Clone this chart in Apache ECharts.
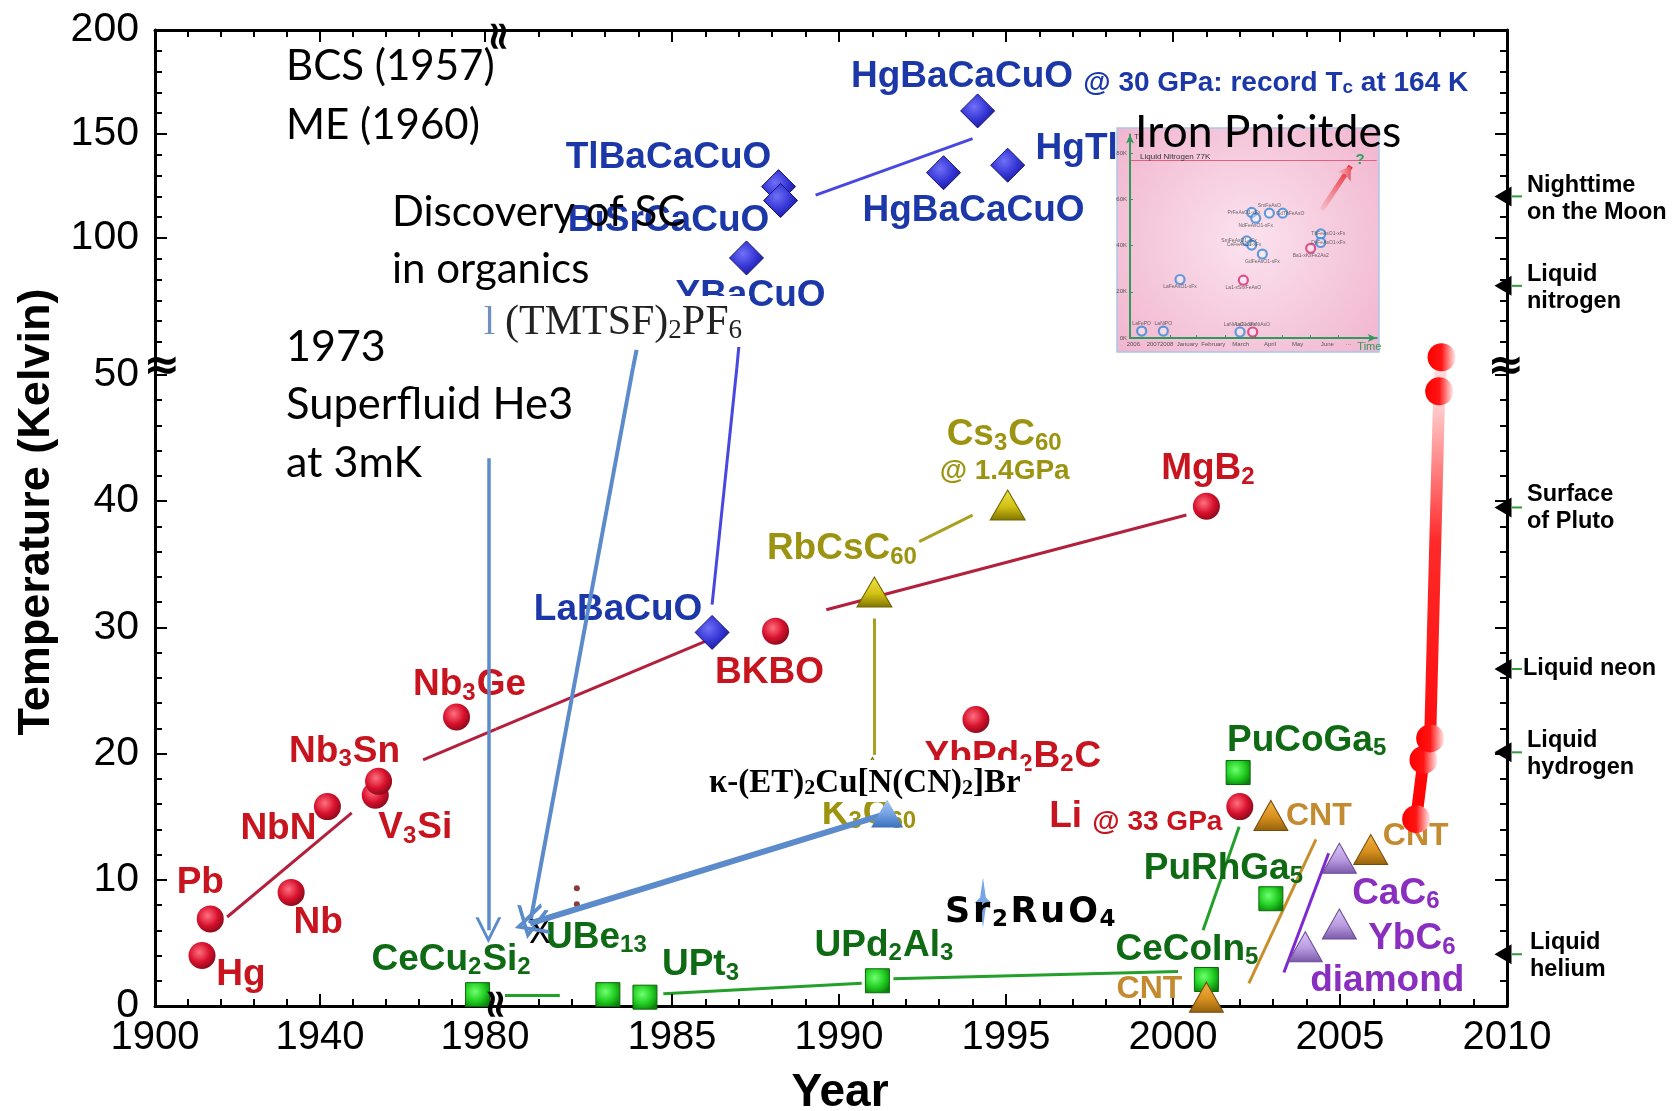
<!DOCTYPE html>
<html>
<head>
<meta charset="utf-8">
<title>Superconductor discovery timeline</title>
<script src="https://cdn.jsdelivr.net/npm/echarts@6.0.0/dist/echarts.min.js"></script>
<style>
html,body{margin:0;padding:0;background:#ffffff;}
#chart{width:1672px;height:1111px;}
</style>
</head>
<body>
<div id="chart"></div>
<script>
// ================= DATA =================
// Axis ranges / ticks (broken axes: 1900-1980 compressed, 50-200 K compressed)
const yearRangeLeft = [1900, 1982.67];
const yearRangeRight = [1979.73, 2010];
const tempRangeLow = [0, 50.55];
const tempRangeHigh = [37.5, 200];
const yearTicksLeft = [1900, 1940, 1980];
const yearTicksRight = [1985, 1990, 1995, 2000, 2005, 2010];
const yearMinorLeft = [1908, 1916, 1924, 1932, 1948, 1956, 1964, 1972];
const yearMinorRight = [1981,1982,1983,1984,1986,1987,1988,1989,1991,1992,1993,1994,1996,1997,1998,1999,2001,2002,2003,2004,2006,2007,2008,2009];
const tempTicksLow = [0, 10, 20, 30, 40, 50];
const tempMinorLow = [2,4,6,8,12,14,16,18,22,24,26,28,32,34,36,38,42,44,46,48];
const tempTicksHigh = [100, 150, 200];
const tempMinorHigh = [50,60,70,80,90,110,120,130,140,160,170,180,190];

// Conventional superconductors (red spheres)
const bcsEarlyNames = ['Hg','Pb','Nb','NbN','V{s|3}Si','Nb{s|3}Sn','Nb{s|3}Ge'];
const bcsEarlyYear  = [1911.4, 1913.4, 1933.0, 1941.8, 1953.4, 1954.2, 1973.1];
const bcsEarlyTc    = [4.0, 6.9, 9.0, 15.8, 16.7, 17.8, 22.9];
const bcsLateNames  = ['BKBO','YbPd{s|2}B{s|2}C','MgB{s|2}','Li {m|@ 33 GPa}'];
const bcsLateYear   = [1988.1, 1994.1, 2001.0, 2002.0];
const bcsLateTc     = [29.7, 22.7, 39.6, 15.8];
// Cuprates (blue diamonds)
const cuprateLowNames = ['LaBaCuO'];
const cuprateLowYear  = [1986.2];
const cuprateLowTc    = [29.6];
const cuprateHighNames = ['YBaCuO','TlBaCaCuO','BiSrCaCuO','HgBaCaCuO','HgTl','HgBaCaCuO {m|@ 30 GPa: record T}{ms|c}{m| at 164 K}'];
const cuprateHighYear  = [1987.23, 1988.19, 1988.25, 1993.13, 1995.05, 1994.15];
const cuprateHighTc    = [90.4, 124.7, 118.0, 131.4, 135.0, 161.1];
// Heavy fermions (green squares)
const hfEarlyNames = ['CeCu{s|2}Si{s|2}'];
const hfEarlyYear  = [1978.2];
const hfEarlyTc    = [0.9];
const hfNames = ['UBe{s|13}','UPt{s|3}','UPd{s|2}Al{s|3}','CeCoIn{s|5}','PuRhGa{s|5}','PuCoGa{s|5}'];
const hfYear  = [1983.08, 1984.19, 1991.15, 2001.0, 2002.93, 2001.95];
const hfTc    = [0.9, 0.7, 2.0, 2.1, 8.5, 18.5];
// Fullerides (olive triangles)
const fullNames = ['RbCsC{s|60}','Cs{s|3}C{s|60}\n{m|@ 1.4GPa}','K{s|3}C{s|60}'];
const fullYear  = [1991.06, 1995.05, 1991.0];
const fullTc    = [32.8, 39.7, 18.5];
// Carbon nanotubes (tan triangles)
const cntNames = ['CNT','CNT','CNT'];
const cntYear  = [2001.0, 2002.93, 2005.92];
const cntTc    = [0.7, 15.1, 12.4];
// Graphite compounds / diamond (purple triangles)
const gicNames = ['CaC{s|6}','YbC{s|6}','diamond'];
const gicYear  = [2004.98, 2004.98, 2003.96];
const gicTc    = [11.7, 6.5, 4.7];
// Iron pnictides (red gradient)
const pnicYear = [2007.28, 2007.5, 2007.7, 2007.97, 2008.04];
const pnicTc   = [14.8, 19.5, 21.2, 48.7, 51.4];
// Organic kappa-(ET) marker and Sr2RuO4 marker
const kappaYear = [1991.44], kappaTc = [15.25];
const srRuYear = [1994.31], srRuTc = [8.2], srRuNames = ['{w|S}{w|r}{s|2}{w|R}{w|u}{w|O}{s|4}'];
const dotYear = [1982.15, 1982.15], dotTc = [9.33, 8.07];

// Trend lines [[year,Tc],[year,Tc]]
const bcsTrendLeft  = [[[1917.5,7.05],[1947.7,15.3]], [[1965.0,19.5],[1982.67,21.93]]];
const bcsTrendRight = [[[1979.73,21.93],[1986.1,29.0]], [[1989.62,31.4],[2000.4,38.9]]];
const cuprateTrendHigh = [[[1989.3,120.6],[1994.0,147.8]], [[1987.0,47.8],[1986.94,37.5]]];
const cuprateTrendLow  = [[[1986.94,50.55],[1986.2,31.8]]];
const fullTrend = [[[1991.06,30.7],[1991.06,19.9]], [[1992.4,36.8],[1994.0,38.9]]];
const hfTrend = [[[1980.0,0.85],[1981.64,0.85]], [[1984.74,0.97],[1990.68,1.8]], [[1991.63,2.15],[2000.15,2.74]], [[2001.98,14.2],[2000.9,6.0]]];
const cntTrend = [[[2002.27,1.8],[2004.28,13.2]]];
const gicTrend = [[[2003.32,2.65],[2004.66,12.1]]];
// Annotation arrows
const he3Arrow = [[[1980.82,43.4],[1980.82,6.0]]];
const organicArrowHigh = [[[1983.94,46.25],[1983.83,37.5]]];
const organicArrowLow  = [[[1983.83,50.55],[1980.75,6.55]]];
const kappaArrow = [[[1991.44,15.25],[1980.75,6.55]]];

// Reference temperatures (right side)
const refHighNames = ['Nighttime\non the Moon','Liquid\nnitrogen'];
const refHighTemps = [120, 77];
const refLowNames = ['Surface\nof Pluto','Liquid neon','Liquid\nhydrogen','Liquid\nhelium'];
const refLowTemps = [39.5, 26.7, 20.1, 4.1];

// Inset: iron pnictides
const insetXLabelPos = [10,70,110,172,250,332,420,503,592,655,718];
const insetXLabels = ['2006','2007','2008','January','February','March','April','May','June','\u00b7\u00b7\u00b7','Time'];
const insetXTicks = [122,200,285,375,458,542,625];
const insetYTicks = [0,20,40,60,80];
const insetBlueNames = ['LaFePO','LaNiPO','LaFeAsO1-xFx','LaNiAsO1-xFx','SmFeAsO1-xFx','CeFeAsO1-xFx','GdFeAsO1-xFx','PrFeAsO1-xFx','NdFeAsO1-xFx','SmFeAsO','GdThFeAsO','TbFeAsO1-xFx','DyFeAsO1-xFx'];
const insetBlueX = [35,100,150,330,350,365,397,365,377,418,458,572,572];
const insetBlueTc = [3.0,3.0,25.3,2.6,42.0,40.2,36.3,54.3,51.8,54.0,54.0,45.0,41.3];
const insetMagNames = ['La1-xSrxFeAsO','La1-xSrxNiAsO','Ba1-xKxFe2As2'];
const insetMagX = [340,368,542];
const insetMagTc = [25.0,2.6,38.8];
const insetN2 = [[[0,77],[740,77]]];
const insetArrow = [[[575,55.4],[662,74.3]]];
const insetQ = [[690,77.2]];

// ================= LAYOUT (label offsets in px) =================
const bcsEarlyOff = [[39,19],[-10,-36],[27,30],[-49,22],[40,33],[-34,-30],[13,-32]];
const bcsLateOff = [[-6,42],[37,37],[2,-37],[-104,10]];
const cuprateLowOff = [[-94,-23]];
const cuprateHighOff = [[4,38],[-110,-29],[-112,20],[30,38],[69,-16],[182,-34]];
const hfEarlyOff = [[-26,-35]];
const hfOff = [[-11,-57],[56,-32],[7,-35],[-19,-30],[-47,-30],[69,-32]];
const fullOff = [[-32,-43],[-3,-55],[-3,41]];
const cntOff = [[-57,-8],[48,1],[45,-13]];
const gicOff = [[57,35],[73,15],[82,34]];
const srRuOff = [[47,10]];
const insetBluePos = ['top','top','bottom','top','left','left','bottom','left','bottom','top','right','right','right'];
const insetMagPos = ['bottom','top','bottom'];

// ================= STYLE =================
const SANS = "'Liberation Sans', Arial, Helvetica, sans-serif";
const SERIF = "'Liberation Serif', 'Times New Roman', serif";
const WIDE = "'DejaVu Sans', Verdana, sans-serif";
const ARROW = 'path://M0,20 L10,0 L20,20 L17.5,20 L10,5 L2.5,20 Z';

function richFor(color, size, family) {
  const f = family || SANS;
  return {
    s:  {color, fontFamily:f, fontWeight:'bold', fontSize:Math.round(size*0.66), verticalAlign:'bottom', lineHeight:Math.round(size*0.42), padding:[0,1,0,0]},
    m:  {color, fontFamily:f, fontWeight:'bold', fontSize:Math.round(size*0.76), verticalAlign:'bottom', lineHeight:Math.round(size*0.82)},
    ms: {color, fontFamily:f, fontWeight:'bold', fontSize:Math.round(size*0.5), verticalAlign:'bottom', lineHeight:Math.round(size*0.3)},
    w:  {color, fontFamily:f, fontWeight:'bold', fontSize:size, padding:[0,1.5,0,1.5]}
  };
}
function radial(c0, c1, c2) {
  return {type:'radial', x:0.4, y:0.38, r:0.7, colorStops:[{offset:0,color:c0},{offset:0.55,color:c1},{offset:1,color:c2}]};
}
function vert(c0, c1, c2) {
  return {type:'linear', x:0, y:0, x2:0, y2:1, colorStops:[{offset:0,color:c0},{offset:0.55,color:c1},{offset:1,color:c2}]};
}
function markers(o) {
  const size = o.labelSize || 37;
  return {
    type:'scatter', xAxisIndex:2*o.grid, yAxisIndex:2*o.grid, clip:false, silent:true, z:o.z||4,
    symbol:o.symbol, symbolSize:o.size, symbolRotate:o.rotate||0, symbolOffset:o.symbolOffset||[0,0],
    itemStyle:{color:o.color, borderColor:o.border||'transparent', borderWidth:o.border?1:0, opacity:1},
    label:{show:!!o.names, position:o.position||'inside', align:o.align||'center', verticalAlign:'middle',
      color:o.labelColor, fontSize:size, fontWeight:o.labelWeight||'bold', fontFamily:o.labelFamily||SANS,
      lineHeight:o.lineHeight||Math.round(size*1.08), rich:richFor(o.labelColor, size, o.labelFamily),
      distance:2, formatter:(p)=>p.name},
    emphasis:{disabled:true},
    data:o.xs.map((x,i)=>{
      const item = {value:[x, o.ys[i]], name:o.names?o.names[i]:''};
      if (o.offsets) item.label = {offset:o.offsets[i]};
      if (o.positions) item.label = {position:o.positions[i]};
      return item;
    })
  };
}
function segs(grid, list, color, width, arrow, z, arrowSize) {
  return {type:'lines', coordinateSystem:'cartesian2d', xAxisIndex:2*grid, yAxisIndex:2*grid,
    polyline:false, clip:false, silent:true, z:z||2,
    symbol: arrow ? ['none', arrow] : ['none','none'], symbolSize: arrowSize || 22,
    lineStyle:{color, width, opacity:1, curveness:0, cap:'butt'}, effect:{show:false},
    data:list.map(c=>({coords:c}))};
}
function xAx(grid, pos, range, ticks, labels, len, line) {
  return {type:'value', gridIndex:grid, position:pos, min:range[0], max:range[1], z:4,
    axisLine:{show:line, onZero:false, lineStyle:{color:'#000', width:3}},
    axisTick:{show:true, inside:true, length:len, customValues:ticks, lineStyle:{color:'#000', width:2}},
    axisLabel:labels ? {show:true, customValues:labels, color:'#000', fontFamily:SANS, fontSize:40, margin:12,
      showMinLabel:true, showMaxLabel:true, formatter:(v)=>String(Math.round(v))} : {show:false},
    splitLine:{show:false}, axisPointer:{show:false}};
}
function yAx(grid, pos, range, ticks, labels, len, line) {
  return {type:'value', gridIndex:grid, position:pos, min:range[0], max:range[1], z:4,
    axisLine:{show:line, onZero:false, lineStyle:{color:'#000', width:3}},
    axisTick:{show:true, inside:true, length:len, customValues:ticks, lineStyle:{color:'#000', width:2}},
    axisLabel:labels ? {show:true, customValues:labels, color:'#000', fontFamily:SANS, fontSize:41, margin:16,
      showMinLabel:true, showMaxLabel:true, formatter:(v)=>String(Math.round(v))} : {show:false},
    splitLine:{show:false}, axisPointer:{show:false}};
}

const RED = '#c8141e', BLUE = '#1c38a8', OLIVE = '#9c9410', GREEN = '#0f6a14', TAN = '#c48a30', PURPLE = '#8a2ec0';
const sphere = radial('#ff7080', '#d8102c', '#7a0a18');
const diamondFill = radial('#7070f8', '#3434d4', '#16168a');
const squareFill = radial('#70ff70', '#22d022', '#0c800c');
const oliveFill = vert('#efe24a', '#d2c214', '#807400');
const tanFill = vert('#f2b448', '#d8901e', '#94600c');
const purpleFill = vert('#e0c8f4', '#b89ae0', '#7a58a8');
const kappaFill = vert('#a8c8f2', '#6f9ee0', '#3a70c0');

const chart = echarts.init(document.getElementById('chart'), null, {renderer:'canvas', width:1672, height:1111});

const gridBase = {show:false, containLabel:false, outerBoundsMode:'none'};
const option = {
  animation:false,
  backgroundColor:'#ffffff',
  textStyle:{fontFamily:SANS},
  grid:[
    Object.assign({left:155, top:30, width:341, height:338}, gridBase),
    Object.assign({left:496, top:30, width:1011, height:338}, gridBase),
    Object.assign({left:155, top:368, width:341, height:638}, gridBase),
    Object.assign({left:496, top:368, width:1011, height:638}, gridBase),
    Object.assign({left:1130, top:134.5, width:246.7, height:203.5}, gridBase)
  ],
  xAxis:[
    xAx(0,'top',yearRangeLeft,yearTicksLeft,null,12,true),
    xAx(0,'top',yearRangeLeft,yearMinorLeft,null,7,false),
    xAx(1,'top',yearRangeRight,yearTicksRight,null,12,true),
    xAx(1,'top',yearRangeRight,yearMinorRight,null,7,false),
    xAx(2,'bottom',yearRangeLeft,yearTicksLeft,yearTicksLeft,12,true),
    xAx(2,'bottom',yearRangeLeft,yearMinorLeft,null,7,false),
    xAx(3,'bottom',yearRangeRight,yearTicksRight,yearTicksRight,12,true),
    xAx(3,'bottom',yearRangeRight,yearMinorRight,null,7,false),
    {type:'value', gridIndex:4, position:'bottom', min:0, max:740, z:6,
      axisLine:{show:true, onZero:false, lineStyle:{color:'#2f9a5c', width:2}, symbol:['none','arrow'], symbolSize:[6,9]},
      axisTick:{show:true, inside:true, length:3, customValues:insetXTicks, lineStyle:{color:'#2f9a5c', width:1}},
      axisLabel:{show:true, customValues:insetXLabelPos, margin:3, color:'#555', fontSize:6, fontFamily:SANS,
        showMinLabel:true, showMaxLabel:true,
        formatter:(v)=>{const i = insetXLabelPos.indexOf(Math.round(v)); const t = i>=0?insetXLabels[i]:''; return t==='Time'?'{t|Time}':t;},
        rich:{t:{color:'#2f9a5c', fontSize:11, fontFamily:SANS}}},
      splitLine:{show:false}}
  ],
  yAxis:[
    yAx(0,'left',tempRangeHigh,tempTicksHigh,tempTicksHigh,12,true),
    yAx(0,'left',tempRangeHigh,tempMinorHigh,null,7,false),
    yAx(1,'right',tempRangeHigh,tempTicksHigh,null,12,true),
    yAx(1,'right',tempRangeHigh,tempMinorHigh,null,7,false),
    yAx(2,'left',tempRangeLow,tempTicksLow,tempTicksLow,12,true),
    yAx(2,'left',tempRangeLow,tempMinorLow,null,7,false),
    yAx(3,'right',tempRangeLow,tempTicksLow,null,12,true),
    yAx(3,'right',tempRangeLow,tempMinorLow,null,7,false),
    {type:'value', gridIndex:4, position:'left', min:0, max:88, z:6,
      name:'T{s|c}', nameLocation:'end', nameGap:-6,
      nameTextStyle:{color:'#444', fontSize:8, align:'left', padding:[0,0,0,4], rich:{s:{fontSize:5, verticalAlign:'bottom', lineHeight:4}}},
      axisLine:{show:true, onZero:false, lineStyle:{color:'#2f9a5c', width:2}, symbol:['none','arrow'], symbolSize:[6,9]},
      axisTick:{show:true, inside:true, length:3, customValues:insetYTicks, lineStyle:{color:'#2f9a5c', width:1}},
      axisLabel:{show:true, customValues:insetYTicks, margin:3, color:'#555', fontSize:6, fontFamily:SANS, formatter:(v)=>Math.round(v)+'K'},
      splitLine:{show:false}}
  ],
  series:[
    // trend lines
    segs(2, bcsTrendLeft, '#b3203c', 3),
    segs(3, bcsTrendRight, '#b3203c', 3),
    segs(1, cuprateTrendHigh, '#4848e0', 3),
    segs(3, cuprateTrendLow, '#4848e0', 3),
    segs(3, fullTrend, '#a8a020', 3),
    segs(3, hfTrend, '#22a02a', 3),
    segs(3, cntTrend, '#c8902c', 3),
    segs(3, gicTrend, '#7d2bd0', 3),
    // markers
    markers({grid:2, names:bcsEarlyNames, xs:bcsEarlyYear, ys:bcsEarlyTc, offsets:bcsEarlyOff, symbol:'circle', size:27, color:sphere, labelColor:RED}),
    markers({grid:3, names:bcsLateNames, xs:bcsLateYear, ys:bcsLateTc, offsets:bcsLateOff, symbol:'circle', size:27, color:sphere, labelColor:RED}),
    markers({grid:3, names:cuprateLowNames, xs:cuprateLowYear, ys:cuprateLowTc, offsets:cuprateLowOff, symbol:'diamond', size:[34,34], color:diamondFill, border:'#14147a', labelColor:BLUE}),
    markers({grid:1, names:cuprateHighNames, xs:cuprateHighYear, ys:cuprateHighTc, offsets:cuprateHighOff, symbol:'diamond', size:[34,34], color:diamondFill, border:'#14147a', labelColor:BLUE}),
    markers({grid:2, names:hfEarlyNames, xs:hfEarlyYear, ys:hfEarlyTc, offsets:hfEarlyOff, symbol:'rect', size:[24,24], color:squareFill, border:'#0a6a0a', labelColor:GREEN}),
    markers({grid:3, names:hfNames, xs:hfYear, ys:hfTc, offsets:hfOff, symbol:'rect', size:[24,24], color:squareFill, border:'#0a6a0a', labelColor:GREEN}),
    markers({grid:3, names:fullNames, xs:fullYear, ys:fullTc, offsets:fullOff, symbol:'triangle', size:[35,30], color:oliveFill, border:'#6e6400', labelColor:OLIVE}),
    markers({grid:3, names:cntNames, xs:cntYear, ys:cntTc, offsets:cntOff, symbol:'triangle', size:[34,30], color:tanFill, border:'#7a4a08', labelColor:TAN, labelSize:32}),
    markers({grid:3, names:gicNames, xs:gicYear, ys:gicTc, offsets:gicOff, symbol:'triangle', size:[34,30], color:purpleFill, border:'#6a4a98', labelColor:PURPLE}),
    markers({grid:3, names:srRuNames, xs:srRuYear, ys:srRuTc, offsets:srRuOff, symbol:'path://M5,0 L6.8,40 L10,50 L6.8,60 L5,100 L3.2,60 L0,50 L3.2,40 Z', size:[16,50], color:'#78a6e4', labelColor:'#000', labelFamily:WIDE, labelSize:35}),
    markers({grid:3, xs:dotYear, ys:dotTc, symbol:'circle', size:6, color:'#8a3a3a'}),
    // pnictides
    {type:'line', xAxisIndex:6, yAxisIndex:6, clip:false, silent:true, z:6,
      data:pnicYear.map((x,i)=>[x, pnicTc[i]]), symbol:'circle', symbolSize:28, showSymbol:true,
      lineStyle:{width:12, color:{type:'linear', x:0, y:0, x2:0, y2:1, colorStops:[{offset:0,color:'#ffe4e4'},{offset:0.12,color:'#ffcaca'},{offset:0.4,color:'#ff2a2a'},{offset:1,color:'#ff0000'}]}},
      itemStyle:{color:{type:'linear', x:0, y:0, x2:1, y2:0, colorStops:[{offset:0,color:'#ff0000'},{offset:0.5,color:'#ff1414'},{offset:1,color:'#ffecec'}]}, borderWidth:0},
      emphasis:{disabled:true}},
    // annotation arrows
    segs(2, he3Arrow, '#5b8bcb', 3.5, ARROW, 7, 26),
    segs(1, organicArrowHigh, '#5b8bcb', 4, null, 7),
    segs(3, organicArrowLow, '#5b8bcb', 4, ARROW, 7, 32),
    segs(3, kappaArrow, '#5b8bcb', 6, ARROW, 12, 32),
    markers({grid:3, xs:kappaYear, ys:kappaTc, symbol:'triangle', size:[32,28], color:kappaFill, z:13}),
    // reference temperatures on the right axis
    markers({grid:1, xs:refHighTemps.map(()=>yearRangeRight[1]), ys:refHighTemps, symbol:'rect', size:[10,2], symbolOffset:[10,0], color:'#2f9a3a', z:5}),
    markers({grid:3, xs:refLowTemps.map(()=>yearRangeRight[1]), ys:refLowTemps, symbol:'rect', size:[10,2], symbolOffset:[10,0], color:'#2f9a3a', z:5}),
    markers({grid:1, names:refHighNames, xs:refHighTemps.map(()=>yearRangeRight[1]), ys:refHighTemps, offsets:[[24,3],[24,2]], symbol:'triangle', rotate:90, size:[20,17], symbolOffset:[-4,0], color:'#000', labelColor:'#000', labelSize:23.5, lineHeight:27, align:'left', z:5}),
    markers({grid:3, names:refLowNames, xs:refLowTemps.map(()=>yearRangeRight[1]), ys:refLowTemps, offsets:[[24,1],[20,0],[24,2],[27,2]], symbol:'triangle', rotate:90, size:[20,17], symbolOffset:[-4,0], color:'#000', labelColor:'#000', labelSize:23.5, lineHeight:27, align:'left', z:5}),
    // inset
    segs(4, insetN2, '#e2607e', 1.2, null, 6),
    {type:'lines', coordinateSystem:'cartesian2d', xAxisIndex:8, yAxisIndex:8, clip:false, silent:true, z:7,
      symbol:['none','arrow'], symbolSize:13, effect:{show:false},
      lineStyle:{width:5, opacity:1, color:{type:'linear', x:0, y:1, x2:1, y2:0, colorStops:[{offset:0,color:'#f6c8d4'},{offset:1,color:'#e8202c'}]}},
      data:insetArrow.map(c=>({coords:c}))},
    Object.assign(markers({grid:4, names:insetBlueNames, xs:insetBlueX, ys:insetBlueTc, positions:insetBluePos, position:'top', symbol:'circle', size:9, color:'rgba(255,255,255,0.5)', labelColor:'#444', labelSize:5, labelWeight:'normal', z:7}),
      {itemStyle:{color:'rgba(255,255,255,0.5)', borderColor:'#3b87d6', borderWidth:2.2}}),
    Object.assign(markers({grid:4, names:insetMagNames, xs:insetMagX, ys:insetMagTc, positions:insetMagPos, position:'top', symbol:'circle', size:9, color:'rgba(255,255,255,0.5)', labelColor:'#444', labelSize:5, labelWeight:'normal', z:7}),
      {itemStyle:{color:'rgba(255,255,255,0.5)', borderColor:'#d62a78', borderWidth:2.2}}),
    markers({grid:4, names:['?'], xs:[insetQ[0][0]], ys:[insetQ[0][1]], offsets:[[0,0]], symbol:'circle', size:0, color:'transparent', labelColor:'#2aa060', labelSize:15, z:7})
  ],
  graphic:{elements:[
    // inset background
    {type:'rect', z:1, shape:{x:1117, y:128, width:262, height:224},
      style:{fill:{type:'radial', x:0.5, y:0.5, r:0.75, colorStops:[{offset:0,color:'#fbe2ee'},{offset:1,color:'#f1b6cf'}]}, stroke:'#a8c8e8', lineWidth:1.5}},
    {type:'text', z:8, x:1140, y:157, style:{text:'Liquid Nitrogen 77K', fill:'#333', font:"8px 'Liberation Sans', Arial, sans-serif", verticalAlign:'middle'}},
    // white label boxes
    {type:'rect', z:10, shape:{x:483, y:296, width:267, height:51}, style:{fill:'#ffffff'}},
    {type:'text', z:11, x:484, y:323, style:{text:'l', fill:'#7090c0', font:"40px 'Liberation Serif', serif", verticalAlign:'middle'}},
    {type:'text', z:11, x:505, y:323, style:{text:'(TMTSF){a|2}PF{a|6}', fill:'#222', font:"42px 'Liberation Serif', serif", verticalAlign:'middle',
      rich:{a:{fontSize:27, fontFamily:SERIF, fill:'#222', verticalAlign:'bottom', lineHeight:14}}}},
    {type:'rect', z:10, shape:{x:707, y:760, width:318, height:42}, style:{fill:'#ffffff'}},
    {type:'text', z:11, x:709, y:783, style:{text:'\u03ba-(ET){a|2}Cu[N(CN){a|2}]Br', fill:'#000', font:"bold 33px 'Liberation Serif', serif", verticalAlign:'middle',
      rich:{a:{fontSize:22, fontWeight:'bold', fontFamily:SERIF, fill:'#000', verticalAlign:'bottom', lineHeight:10}}}},
    // Calibri-style annotations
    {type:'text', z:10, x:286, y:66, style:{text:'BCS (1957)', fill:'#000', font:"42px Lato, sans-serif", verticalAlign:'middle'}},
    {type:'text', z:10, x:286, y:125, style:{text:'ME (1960)', fill:'#000', font:"42px Lato, sans-serif", verticalAlign:'middle'}},
    {type:'text', z:10, x:392, y:212, style:{text:'Discovery of SC', fill:'#000', font:"42px Lato, sans-serif", verticalAlign:'middle'}},
    {type:'text', z:10, x:392, y:269, style:{text:'in organics', fill:'#000', font:"42px Lato, sans-serif", verticalAlign:'middle'}},
    {type:'text', z:10, x:286, y:347, style:{text:'1973', fill:'#000', font:"43px Lato, sans-serif", verticalAlign:'middle'}},
    {type:'text', z:10, x:286, y:405, style:{text:'Superfluid He3', fill:'#000', font:"43.5px Lato, sans-serif", verticalAlign:'middle'}},
    {type:'text', z:10, x:286, y:463, style:{text:'at 3mK', fill:'#000', font:"43px Lato, sans-serif", verticalAlign:'middle'}},
    {type:'text', z:12, x:1135, y:133, style:{text:'Iron Pnicitdes', fill:'#000', font:"44.5px Lato, sans-serif", verticalAlign:'middle'}},
    {type:'text', z:12, x:540, y:933, style:{text:'X', fill:'#000', font:"32px Lato, sans-serif", align:'center', verticalAlign:'middle'}},
    // axis titles
    {type:'text', z:10, x:840, y:1093, style:{text:'Year', fill:'#000', font:"bold 46px 'Liberation Sans', Arial, sans-serif", align:'center', verticalAlign:'middle'}},
    {type:'text', z:10, x:37, y:512, rotation:Math.PI/2, style:{text:'Temperature (Kelvin)', fill:'#000', font:"bold 45px 'Liberation Sans', Arial, sans-serif", align:'center', verticalAlign:'middle'}},
    // axis break marks
    {type:'text', z:10, x:162, y:368, style:{text:'\u2248', fill:'#000', font:"bold 44px 'DejaVu Sans', sans-serif", align:'center', verticalAlign:'middle'}},
    {type:'text', z:10, x:1506, y:368, style:{text:'\u2248', fill:'#000', font:"bold 44px 'DejaVu Sans', sans-serif", align:'center', verticalAlign:'middle'}},
    {type:'text', z:10, x:498, y:1004, rotation:Math.PI/2, style:{text:'\u2248', fill:'#000', font:"bold 40px 'DejaVu Sans', sans-serif", align:'center', verticalAlign:'middle'}},
    {type:'text', z:10, x:501, y:36, rotation:Math.PI/2, style:{text:'\u2248', fill:'#000', font:"bold 40px 'DejaVu Sans', sans-serif", align:'center', verticalAlign:'middle'}}
  ]}
};
chart.setOption(option);
</script>
</body>
</html>
